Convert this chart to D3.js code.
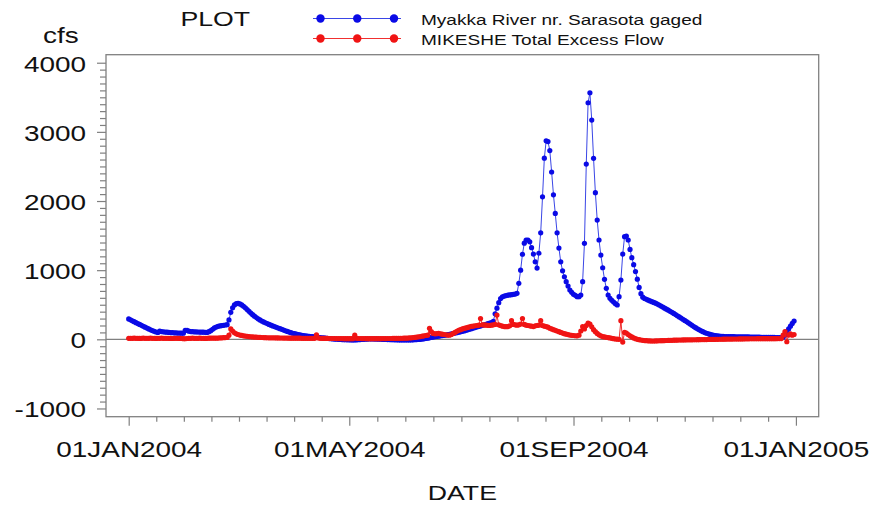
<!DOCTYPE html>
<html>
<head>
<meta charset="utf-8">
<script src="https://cdn.jsdelivr.net/npm/d3@7"></script>
<style>
html,body{margin:0;padding:0;background:#fff;}
svg{display:block;font-family:"Liberation Sans",Arial,sans-serif;}
</style>
</head>
<body>
<div id="chart"></div>
<script>
// ---- data (daily values, 01JAN2004 .. 31DEC2004) ----
const seriesNames = ["Myakka River nr. Sarasota gaged", "MIKESHE Total Excess Flow"];
const startYear = 2004;
const gaged = [
  295,282,268,255,241,228,215,202,189,176,
  163,150,138,126,115,106,100,118,112,108,
  105,103,100,98,96,94,92,91,90,89,
  88,130,128,118,112,110,108,107,106,105,
  104,103,101,100,110,125,145,165,178,188,
  194,199,203,207,212,280,390,455,497,515,
  520,512,498,478,455,430,405,380,357,335,
  315,297,280,265,252,240,228,216,205,194,
  184,174,164,154,144,134,124,114,105,96,
  88,81,74,68,63,58,54,50,47,44,
  41,38,35,32,29,26,23,20,17,14,
  11,8,5,3,1,0,-2,-4,-5,-6,
  -7,-8,-9,-10,-10,-8,-6,-4,-2,0,
  2,4,5,5,5,4,3,2,1,0,
  -1,-2,-3,-4,-5,-6,-7,-8,-9,-10,
  -10,-10,-10,-10,-10,-9,-8,-6,-4,-2,
  0,3,7,12,17,22,27,32,37,42,
  46,50,54,58,62,67,72,78,84,90,
  96,102,108,115,122,130,138,146,154,162,
  170,178,186,194,202,210,218,226,234,242,
  260,370,450,530,590,615,625,632,638,642,
  646,650,655,665,810,1000,1230,1390,1436,1436,
  1410,1325,1233,1122,1030,1245,1540,2060,2620,2870,
  2860,2730,2420,2090,1820,1540,1320,1120,990,905,
  833,770,713,680,650,636,616,616,640,833,
  1388,2535,3421,3566,3171,2617,2120,1725,1436,1219,
  1035,868,737,641,593,565,540,515,496,616,
  857,1233,1484,1494,1436,1300,1180,1080,980,870,
  750,660,610,590,578,566,555,544,533,522,
  510,496,481,466,451,436,421,405,390,374,
  358,341,324,307,290,273,256,238,220,202,
  185,168,152,137,123,110,98,88,79,71,
  64,58,53,49,46,44,42,41,40,39,
  39,38,38,37,37,36,36,35,35,34,
  34,33,33,32,32,31,31,30,30,29,
  29,28,28,27,27,26,26,25,25,30,
  60,110,150,190,230,265
];
const mikeshe = [
  15,14,15,16,15,14,13,15,16,15,
  14,15,16,15,14,13,14,15,16,15,
  14,15,14,13,12,14,15,14,13,12,
  10,8,12,14,15,16,15,14,15,16,
  15,14,13,15,16,17,18,17,16,18,
  20,22,24,25,26,60,150,120,95,80,
  70,62,56,51,47,43,40,37,35,33,
  31,29,27,26,25,24,23,22,22,21,
  21,20,20,19,19,18,18,18,17,17,
  17,16,16,16,16,15,15,15,15,14,
  14,14,14,65,20,14,14,13,13,13,
  12,12,12,12,11,11,11,11,10,10,
  10,10,10,10,60,15,12,12,11,11,
  11,10,10,10,10,10,10,10,10,11,
  11,11,12,12,12,13,13,14,14,15,
  15,16,17,18,20,22,25,28,32,36,
  40,45,50,55,60,160,110,85,80,82,
  85,80,75,70,66,62,60,70,85,100,
  115,130,140,150,158,165,172,180,186,192,
  196,200,204,300,210,208,205,202,200,205,
  210,215,350,210,200,190,185,183,185,195,
  270,215,210,205,210,220,300,215,205,200,
  195,190,185,195,200,205,270,200,190,185,
  175,160,150,140,130,120,110,100,90,82,
  75,68,62,58,55,52,50,60,120,185,
  150,200,235,220,180,140,110,85,65,50,
  40,35,30,25,20,15,10,5,2,0,
  270,-40,100,90,70,50,35,20,10,0,
  -5,-10,-15,-18,-20,-22,-23,-24,-24,-23,
  -22,-21,-20,-19,-18,-17,-16,-15,-14,-13,
  -12,-11,-10,-10,-9,-9,-8,-8,-7,-7,
  -6,-6,-5,-5,-4,-4,-3,-3,-2,-2,
  -1,-1,0,0,1,1,2,2,3,3,
  4,4,5,5,5,6,6,6,7,7,
  7,8,8,8,8,9,9,9,9,10,
  10,10,10,10,10,10,11,11,11,60,
  110,-35,62,80,60,70
];
const yTickValues = [-1000, 0, 1000, 2000, 3000, 4000];
const xTickLabels = ["01JAN2004", "01MAY2004", "01SEP2004", "01JAN2005"];
const xTickMonths = [[2004,0],[2004,4],[2004,8],[2005,0]];

// ---- layout ----
const W = 894, H = 508;
const L = 106, R = 818.7, T = 54.7, B = 416.7;
const SX = 1.27; // horizontal text stretch seen in reference
const DAY = 864e5;
const t0 = Date.UTC(startYear, 0, 1);
const dayDate = i => new Date(t0 + i * DAY);

const svg = d3.select("#chart").append("svg").attr("width", W).attr("height", H);

const x = d3.scaleUtc()
  .domain([new Date(t0 - 12.45 * DAY), new Date(t0 + 378.5 * DAY)])
  .range([L, R]);
const y = d3.scaleLinear().domain([-1119, 4116]).range([B, T]);

const gray = "#808080";

// frame
svg.append("rect").attr("x", L).attr("y", T).attr("width", R - L).attr("height", B - T)
  .attr("fill", "none").attr("stroke", gray).attr("stroke-width", 1.3);

// zero reference line
svg.append("line").attr("x1", L).attr("x2", R).attr("y1", y(0)).attr("y2", y(0))
  .attr("stroke", gray).attr("stroke-width", 1.2);

// y axis
const yMinor = d3.range(-900, 4000, 100).filter(v => v % 1000 !== 0);
const gyMinor = svg.append("g").attr("transform", `translate(${L},0)`)
  .call(d3.axisLeft(y).tickValues(yMinor).tickSize(6).tickSizeOuter(0).tickFormat(""));
const gy = svg.append("g").attr("transform", `translate(${L},0)`)
  .call(d3.axisLeft(y).tickValues(yTickValues).tickSize(9).tickSizeOuter(0).tickFormat(d => String(d)));
[gyMinor, gy].forEach(g => {
  g.select(".domain").remove();
  g.selectAll("line").attr("stroke", gray).attr("stroke-width", 1.2);
});
gy.selectAll("text")
  .attr("x", 0).attr("dy", null).attr("y", 0)
  .attr("transform", `translate(-20,8.5) scale(${SX},1)`)
  .attr("font-size", 22).attr("font-family", "Liberation Sans, Arial, sans-serif")
  .attr("fill", "#111").attr("text-anchor", "end");

// x axis
const majorDates = xTickMonths.map(([yy, mm]) => new Date(Date.UTC(yy, mm, 1)));
const minorDates = [];
for (let i = 0; i < majorDates.length - 1; i++) {
  const a = +majorDates[i], b = +majorDates[i + 1];
  for (let k = 1; k < 8; k++) minorDates.push(new Date(a + (b - a) * k / 8));
}
const gxMinor = svg.append("g").attr("transform", `translate(0,${B})`)
  .call(d3.axisBottom(x).tickValues(minorDates).tickSize(5).tickSizeOuter(0).tickFormat(""));
const gx = svg.append("g").attr("transform", `translate(0,${B})`)
  .call(d3.axisBottom(x).tickValues(majorDates).tickSize(9).tickSizeOuter(0)
    .tickFormat((d, i) => xTickLabels[i]));
[gxMinor, gx].forEach(g => {
  g.select(".domain").remove();
  g.selectAll("line").attr("stroke", gray).attr("stroke-width", 1.2);
});
gx.selectAll("text")
  .attr("y", 0).attr("dy", null)
  .attr("transform", `translate(0,40.5) scale(${SX},1)`)
  .attr("font-size", 22).attr("font-family", "Liberation Sans, Arial, sans-serif")
  .attr("fill", "#111").attr("text-anchor", "middle");

// titles
function stretchedText(tx, ty, str, size, anchor) {
  svg.append("text").attr("transform", `translate(${tx},${ty}) scale(${SX},1)`)
    .attr("font-size", size).attr("fill", "#111").attr("text-anchor", anchor || "start")
    .text(str);
}
stretchedText(43, 43, "cfs", 22);
stretchedText(180.5, 26, "PLOT", 21);
stretchedText((L + R) / 2, 500, "DATE", 21, "middle");

// series
const blueMark = "#0a0ae6", blueLine = "#3a46e6";
const redMark = "#f01414", redLine = "#f03030";
const line = d3.line().x((d, i) => x(dayDate(i))).y(d => y(d));

function drawSeries(vals, lineColor, markColor) {
  svg.append("path").datum(vals).attr("d", line)
    .attr("fill", "none").attr("stroke", lineColor).attr("stroke-width", 1);
  svg.append("g").selectAll("circle").data(vals).join("circle")
    .attr("cx", (d, i) => x(dayDate(i))).attr("cy", d => y(d))
    .attr("r", 2.6).attr("fill", markColor);
}
drawSeries(gaged, blueLine, blueMark);
drawSeries(mikeshe, redLine, redMark);

// legend
const legend = [
  { name: seriesNames[0], line: blueLine, mark: blueMark, yy: 18.5 },
  { name: seriesNames[1], line: redLine, mark: redMark, yy: 38.5 }
];
const legX = d3.scaleLinear().domain([0, 2]).range([320.5, 394]);
legend.forEach(it => {
  svg.append("line").attr("x1", 313).attr("x2", 401).attr("y1", it.yy).attr("y2", it.yy)
    .attr("stroke", it.line).attr("stroke-width", 1.2);
  svg.append("g").selectAll("circle").data([0, 1, 2]).join("circle")
    .attr("cx", d => legX(d)).attr("cy", it.yy).attr("r", 4.2).attr("fill", it.mark);
  stretchedText(421, it.yy + 6, it.name, 15);
});
</script>
</body>
</html>
